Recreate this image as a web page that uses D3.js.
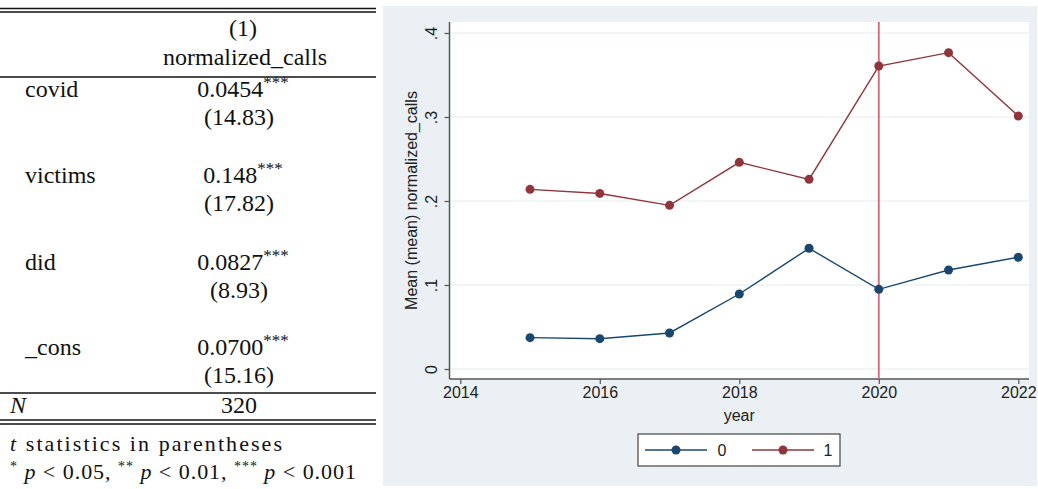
<!DOCTYPE html>
<html>
<head>
<meta charset="utf-8">
<script src="https://cdn.jsdelivr.net/npm/d3@7"></script>
<style>
  html, body { margin: 0; padding: 0; background: #ffffff; }
  svg { display: block; }
</style>
</head>
<body>
<svg id="fig" width="1038" height="489"></svg>
<script>
// ---- Regression table ----
const regTerms = ["covid", "victims", "did", "_cons"];
const regCoefs = ["0.0454", "0.148", "0.0827", "0.0700"];
const regStars = ["***", "***", "***", "***"];
const regTstats = ["(14.83)", "(17.82)", "(8.93)", "(15.16)"];
const nObs = "320";

// ---- Mean normalized calls by year and group ----
const years = [2015, 2016, 2017, 2018, 2019, 2020, 2021, 2022];
const group0 = [0.0373, 0.0361, 0.0429, 0.0893, 0.1437, 0.0948, 0.1179, 0.1330];
const group1 = [0.2139, 0.2090, 0.1948, 0.2460, 0.2258, 0.3607, 0.3766, 0.3012];
const groupNames = ["0", "1"];
const xTicks = [2014, 2016, 2018, 2020, 2022];
const yTicks = [0, 0.1, 0.2, 0.3, 0.4];
const eventYear = 2020;

const svg = d3.select("#fig");

// ================= Table =================
const tbl = svg.append("g").attr("font-family", "'Liberation Serif', 'DejaVu Serif', serif")
  .attr("font-size", 24).attr("fill", "#111");
const tblW = 376, colX = 243, labX = 25;
const rule = (y, w) => tbl.append("line").attr("x1", 0).attr("x2", tblW)
  .attr("y1", y).attr("y2", y).attr("stroke", "#111").attr("stroke-width", w);

rule(8.5, 1.4); rule(12, 1.4);
tbl.append("text").attr("x", colX).attr("y", 36).attr("text-anchor", "middle").text("(1)");
tbl.append("text").attr("x", colX + 2).attr("y", 65).attr("text-anchor", "middle").text("normalized_calls");
rule(77, 1.4);

const rowBase = [97, 183, 270, 355];
regTerms.forEach((t, i) => {
  const yb = rowBase[i];
  tbl.append("text").attr("x", labX).attr("y", yb).text(t);
  const c = tbl.append("text").attr("x", colX).attr("y", yb).attr("text-anchor", "middle");
  c.append("tspan").text(regCoefs[i]);
  c.append("tspan").attr("font-size", 17).attr("dy", -9).text(regStars[i]);
  tbl.append("text").attr("x", colX - 4).attr("y", yb + 28).attr("text-anchor", "middle").text(regTstats[i]);
});
rule(393, 1.4);
tbl.append("text").attr("x", 10).attr("y", 413).attr("font-style", "italic").text("N");
tbl.append("text").attr("x", colX - 4).attr("y", 413).attr("text-anchor", "middle").text(nObs);
rule(420, 1.4); rule(424, 1.4);

const note1 = tbl.append("text").attr("x", 10).attr("y", 451).attr("font-size", 22)
  .attr("textLength", 272).attr("lengthAdjust", "spacing");
note1.append("tspan").attr("font-style", "italic").text("t");
note1.append("tspan").text(" statistics in parentheses");

const note2 = tbl.append("text").attr("x", 10).attr("y", 479).attr("font-size", 22)
  .attr("textLength", 346).attr("lengthAdjust", "spacing");
[["*", "0.05, "], ["**", "0.01, "], ["***", "0.001"]].forEach((p, i) => {
  note2.append("tspan").attr("font-size", 14).attr("dy", -8).text(p[0]);
  note2.append("tspan").attr("dy", 8).text(" ");
  note2.append("tspan").attr("font-style", "italic").text("p");
  note2.append("tspan").text(" < " + p[1]);
});

// ================= Chart =================
const panel = { x: 383, y: 6, w: 654, h: 480 };
const plot = { left: 449.5, right: 1029, top: 22, bottom: 379 };

svg.append("rect").attr("x", panel.x).attr("y", panel.y).attr("width", panel.w).attr("height", panel.h)
  .attr("fill", "#eaf0f3");
svg.append("rect").attr("x", plot.left).attr("y", plot.top)
  .attr("width", plot.right - plot.left).attr("height", plot.bottom - plot.top).attr("fill", "#ffffff");

const x = d3.scaleLinear().domain([2014, 2022]).range([460.3, 1018.3]);
const y = d3.scaleLinear().domain([0, 0.4]).range([369, 33]);

const chart = svg.append("g").attr("font-family", "'Liberation Sans', Arial, sans-serif");

// horizontal grid
chart.append("g").selectAll("line").data(yTicks).join("line")
  .attr("x1", plot.left).attr("x2", plot.right)
  .attr("y1", d => y(d)).attr("y2", d => y(d))
  .attr("stroke", "#e3eced").attr("stroke-width", 1.2);

// y axis
const fmtY = d => d === 0 ? "0" : d3.format(".1f")(d).replace(/^0/, "");
const yAxis = chart.append("g").attr("transform", `translate(${plot.left},0)`)
  .call(d3.axisLeft(y).tickValues(yTicks).tickFormat(fmtY).tickSize(5).tickSizeOuter(0));
yAxis.select(".domain").attr("d", `M0,${plot.top}V${plot.bottom}`).attr("stroke", "#555").attr("stroke-width", 1.5);
yAxis.selectAll(".tick line").attr("stroke", "#555").attr("stroke-width", 1.2);
yAxis.selectAll(".tick text")
  .attr("x", null).attr("dy", null)
  .attr("transform", "translate(-13,0) rotate(-90)")
  .attr("text-anchor", "middle").attr("dy", "0em")
  .attr("font-size", 16).attr("fill", "#222").attr("font-family", "'Liberation Sans', Arial, sans-serif");

// x axis
const xAxis = chart.append("g").attr("transform", `translate(0,${plot.bottom})`)
  .call(d3.axisBottom(x).tickValues(xTicks).tickFormat(d3.format("d")).tickSize(5).tickSizeOuter(0));
xAxis.select(".domain").attr("d", `M${plot.left},0H${plot.right}`).attr("stroke", "#555").attr("stroke-width", 1.5);
xAxis.selectAll(".tick line").attr("stroke", "#555").attr("stroke-width", 1.2);
xAxis.selectAll(".tick text").attr("y", 8).attr("dy", "0.71em")
  .attr("font-size", 16).attr("fill", "#222").attr("font-family", "'Liberation Sans', Arial, sans-serif");

// axis titles
chart.append("text").attr("transform", `translate(417,${(plot.top + plot.bottom) / 2}) rotate(-90)`)
  .attr("text-anchor", "middle").attr("font-size", 16).attr("fill", "#222")
  .text("Mean (mean) normalized_calls");
chart.append("text").attr("x", (plot.left + plot.right) / 2).attr("y", 421)
  .attr("text-anchor", "middle").attr("font-size", 16).attr("fill", "#222").text("year");

// series
const colors = ["#1a476f", "#90353b"];
const series = [group0, group1];
const line = d3.line().x((d, i) => x(years[i])).y(d => y(d));
series.forEach((vals, k) => {
  chart.append("path").datum(vals).attr("d", line)
    .attr("fill", "none").attr("stroke", colors[k]).attr("stroke-width", 1.4);
});

// event line
chart.append("line").attr("x1", x(eventYear)).attr("x2", x(eventYear))
  .attr("y1", plot.top).attr("y2", plot.bottom)
  .attr("stroke", "#d4667c").attr("stroke-width", 1.8);

series.forEach((vals, k) => {
  chart.append("g").selectAll("circle").data(vals).join("circle")
    .attr("cx", (d, i) => x(years[i])).attr("cy", d => y(d)).attr("r", 4.5)
    .attr("fill", colors[k]);
});

// legend
const lg = chart.append("g");
lg.append("rect").attr("x", 638).attr("y", 434).attr("width", 202).attr("height", 32)
  .attr("fill", "#ffffff").attr("stroke", "#444").attr("stroke-width", 1.2);
const legItems = [{ x1: 645, x2: 707, tx: 722 }, { x1: 752, x2: 814, tx: 828 }];
legItems.forEach((it, k) => {
  const ly = 450;
  lg.append("line").attr("x1", it.x1).attr("x2", it.x2).attr("y1", ly).attr("y2", ly)
    .attr("stroke", colors[k]).attr("stroke-width", 1.4);
  lg.append("circle").attr("cx", (it.x1 + it.x2) / 2).attr("cy", ly).attr("r", 4.5).attr("fill", colors[k]);
  lg.append("text").attr("x", it.tx).attr("y", ly).attr("dy", "0.36em").attr("text-anchor", "middle")
    .attr("font-size", 16).attr("fill", "#222").text(groupNames[k]);
});
</script>
</body>
</html>
